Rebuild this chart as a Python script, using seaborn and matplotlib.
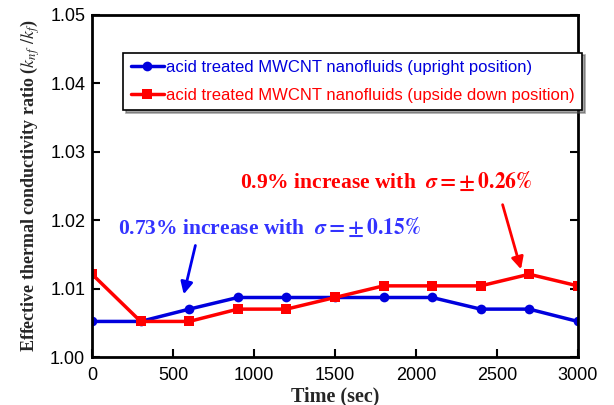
import pandas as pd
import matplotlib.pyplot as plt
import seaborn as sns

# Data
time_sec = [0, 300, 600, 900, 1200, 1500, 1800, 2100, 2400, 2700, 3000]
upright = [1.0052, 1.0052, 1.0070, 1.0087, 1.0087, 1.0087, 1.0087, 1.0087, 1.0070, 1.0070, 1.0052]
upside_down = [1.0121, 1.0052, 1.0052, 1.0070, 1.0070, 1.0087, 1.0104, 1.0104, 1.0104, 1.0121, 1.0104]
series_names = ['acid treated MWCNT nanofluids (upright position)',
                'acid treated MWCNT nanofluids (upside down position)']
x_ticks = [0, 500, 1000, 1500, 2000, 2500, 3000]
y_ticks = [1.00, 1.01, 1.02, 1.03, 1.04, 1.05]

df = pd.DataFrame({
    'time': time_sec * 2,
    'ratio': upright + upside_down,
    'series': [series_names[0]] * len(time_sec) + [series_names[1]] * len(time_sec),
})

sns.set_style('ticks')
plt.rcParams['font.family'] = ['Liberation Sans', 'DejaVu Sans']
plt.rcParams['mathtext.fontset'] = 'stix'

fig = plt.figure(figsize=(6.14, 4.05), dpi=100)
ax = fig.add_axes([0.150, 0.1185, 0.791, 0.8445])

colors = {series_names[0]: '#0000dd', series_names[1]: '#ff0000'}
sns.lineplot(data=df, x='time', y='ratio', hue='series', style='series',
             palette=colors, markers={series_names[0]: 'o', series_names[1]: 's'},
             dashes=False, linewidth=2.5, markersize=7, markeredgewidth=0,
             ax=ax)

ax.set_xlim(0, 3000)
ax.set_ylim(1.00, 1.05)
ax.set_xticks(x_ticks)
ax.set_yticks(y_ticks)
ax.set_yticklabels([f'{v:.2f}' for v in y_ticks])
ax.tick_params(direction='in', length=6, width=1.5, labelsize=13,
               right=True, top=False, colors='black')
ax.tick_params(axis='x', pad=7)
ax.tick_params(axis='y', pad=5)
for sp in ax.spines.values():
    sp.set_linewidth(2)
    sp.set_color('black')

ax.set_xlabel('Time (sec)', fontsize=14.5, fontweight='bold', family='Liberation Serif',
              labelpad=2)
ax.set_ylabel(r'Effective thermal conductivity ratio ($k_{nf}$ /$k_f$)', fontsize=13,
              fontweight='bold', family='Liberation Serif', labelpad=6)

leg = ax.legend(loc='upper left', bbox_to_anchor=(0.064, 0.89), frameon=True,
                fancybox=False, shadow=True, fontsize=12, handlelength=2.0,
                handletextpad=0.1, borderpad=0.45, labelspacing=0.75, borderaxespad=0)
leg.get_frame().set_edgecolor('black')
leg.get_frame().set_linewidth(1.2)
for txt, name in zip(leg.get_texts(), series_names):
    txt.set_color(colors[name])

ax.annotate('', xy=(562, 1.00877), xytext=(642, 1.0167),
            arrowprops=dict(arrowstyle='-|>', color='#0000ee', lw=2, mutation_scale=18))
ax.annotate('', xy=(2654, 1.01243), xytext=(2531, 1.02266),
            arrowprops=dict(arrowstyle='-|>', color='#ff0000', lw=2, mutation_scale=18))
ax.text(160, 1.0190, r'0.73% increase with  $\boldsymbol{\sigma}$$\mathbf{=\pm\,0.15\%}$',
        color='#3333ff', fontsize=15.5, fontweight='bold', family='Liberation Serif', va='center')
ax.text(914, 1.0257, r'0.9% increase with  $\boldsymbol{\sigma}$$\mathbf{=\pm\,0.26\%}$',
        color='#ff0000', fontsize=15.5, fontweight='bold', family='Liberation Serif', va='center')

fig.savefig('out.png', dpi=100)
